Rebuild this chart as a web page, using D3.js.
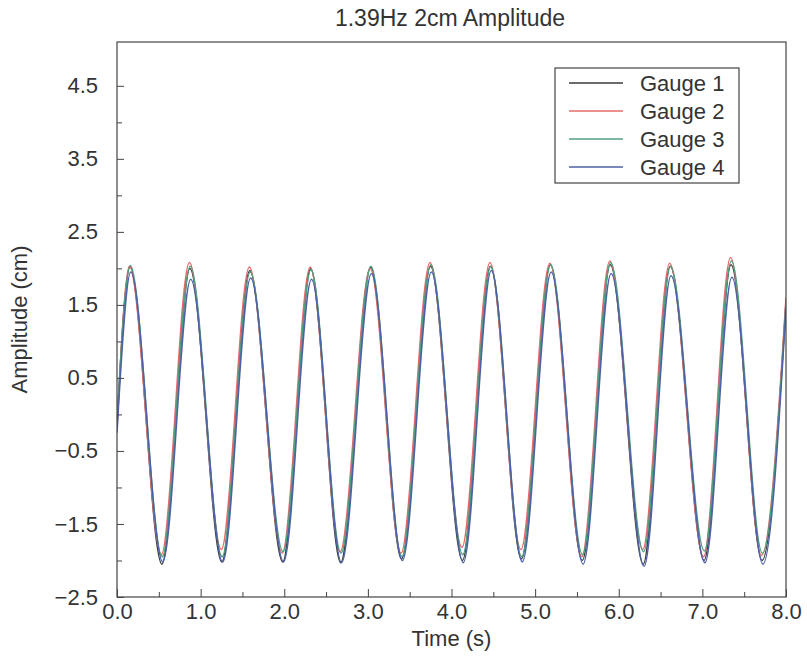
<!DOCTYPE html>
<html>
<head>
<meta charset="utf-8">
<script src="https://cdn.jsdelivr.net/npm/d3@7"></script>
<style>
  html, body { margin: 0; padding: 0; background: #fff; }
  svg { display: block; }
  text { font-family: "Liberation Sans", Arial, Helvetica, sans-serif; fill: #333; }
</style>
</head>
<body>
<svg id="chart" width="807" height="657"></svg>
<script>
// ---- data ----
const title = "1.39Hz 2cm Amplitude";
const xLabel = "Time (s)";
const yLabel = "Amplitude (cm)";
const xTicks = [0, 1, 2, 3, 4, 5, 6, 7, 8];
const xMinorTicks = [0.5, 1.5, 2.5, 3.5, 4.5, 5.5, 6.5, 7.5];
const yTicks = [-2.5, -1.5, -0.5, 0.5, 1.5, 2.5, 3.5, 4.5];
const yMinorTicks = [-2.0, -1.0, 0.0, 1.0, 2.0, 3.0, 4.0];
const seriesNames = ["Gauge 1", "Gauge 2", "Gauge 3", "Gauge 4"];

// start / end values of each record (t = 0 and t = 8 s)
const startValues = [-0.15, -0.2, -0.1, -0.25];
const endValues = [1.55, 1.6, 1.5, 1.45];

// times of crests and troughs (s)
const crestTimes = [0.155, 0.872, 1.588, 2.316, 3.033, 3.749, 4.466, 5.182, 5.899, 6.615, 7.343];
const troughTimes = [0.537, 1.254, 1.982, 2.675, 3.403, 4.131, 4.836, 5.564, 6.293, 7.021, 7.714];
// small per-gauge time shifts (s)
const timeShift = [0.0, -0.006, 0.004, 0.010];

// crest heights (cm)
const gauge1Crests = [2.02, 2.00, 1.97, 2.00, 2.02, 2.03, 2.03, 2.05, 2.05, 2.03, 2.05];
const gauge2Crests = [2.03, 2.08, 2.02, 2.02, 2.00, 2.08, 2.08, 2.07, 2.10, 2.07, 2.15];
const gauge3Crests = [2.04, 2.03, 1.95, 1.98, 2.03, 2.05, 2.03, 2.05, 2.08, 2.03, 2.10];
const gauge4Crests = [1.95, 1.85, 1.87, 1.85, 1.93, 1.95, 1.97, 1.95, 1.93, 1.90, 1.88];
// trough depths (cm)
const gauge1Troughs = [-2.05, -2.02, -2.02, -2.03, -1.98, -2.00, -1.98, -2.00, -2.05, -2.00, -2.00];
const gauge2Troughs = [-1.92, -1.85, -1.90, -1.88, -1.90, -1.82, -1.85, -1.95, -1.85, -1.95, -1.93];
const gauge3Troughs = [-1.95, -1.95, -1.88, -1.90, -1.95, -1.92, -1.95, -1.92, -1.88, -1.87, -1.90];
const gauge4Troughs = [-2.02, -2.02, -2.02, -2.03, -2.00, -2.03, -2.02, -2.05, -2.08, -2.03, -2.05];

const crests = [gauge1Crests, gauge2Crests, gauge3Crests, gauge4Crests];
const troughs = [gauge1Troughs, gauge2Troughs, gauge3Troughs, gauge4Troughs];
const colors = ["#3a3a3a", "#e46a6a", "#4f9e80", "#4d62a6"];

// ---- layout ----
const svg = d3.select("#chart");
const W = 807, H = 657;
const m = { left: 117, right: 21, top: 42, bottom: 60 };
const x = d3.scaleLinear().domain([0, 8]).range([m.left, W - m.right]);
const y = d3.scaleLinear().domain([-2.5, 5.1]).range([H - m.bottom, m.top]);
const fmt = d3.format(".1f");
const axisColor = "#444";

// build series
const series = seriesNames.map((name, i) => {
  const pts = [{ t: 0, v: startValues[i] }];
  crestTimes.forEach((ct, k) => {
    pts.push({ t: ct + timeShift[i], v: crests[i][k] });
    pts.push({ t: troughTimes[k] + timeShift[i], v: troughs[i][k] });
  });
  pts.push({ t: 8, v: endValues[i] });
  return { name, color: colors[i], pts };
});

// clip
svg.append("defs").append("clipPath").attr("id", "clip")
  .append("rect").attr("x", x(0)).attr("y", y(5.1))
  .attr("width", x(8) - x(0)).attr("height", y(-2.5) - y(5.1));

const line = d3.line().x(d => x(d.t)).y(d => y(d.v)).curve(d3.curveMonotoneX);

svg.append("g").attr("clip-path", "url(#clip)")
  .selectAll("path").data(series).join("path")
  .attr("d", d => line(d.pts))
  .attr("fill", "none")
  .attr("stroke", d => d.color)
  .attr("stroke-width", 1.5)
  .attr("stroke-linejoin", "round");

// frame
svg.append("rect")
  .attr("x", x(0)).attr("y", y(5.1))
  .attr("width", x(8) - x(0)).attr("height", y(-2.5) - y(5.1))
  .attr("fill", "none").attr("stroke", axisColor).attr("stroke-width", 1.2);

// x axis (ticks pointing inward)
const xAxis = d3.axisBottom(x).tickValues(xTicks).tickFormat(fmt).tickSize(-8).tickPadding(6);
const gx = svg.append("g").attr("transform", `translate(0,${y(-2.5)})`).call(xAxis);
gx.select(".domain").remove();
gx.selectAll(".tick line").attr("stroke", axisColor);
gx.selectAll(".tick text").attr("font-size", 22).attr("fill", "#333")
  .attr("font-family", "Liberation Sans, Arial, sans-serif").attr("dy", "0.71em");
const gxm = svg.append("g").attr("transform", `translate(0,${y(-2.5)})`)
  .call(d3.axisBottom(x).tickValues(xMinorTicks).tickFormat("").tickSize(-5));
gxm.select(".domain").remove();
gxm.selectAll(".tick line").attr("stroke", axisColor);

// y axis
const yAxis = d3.axisLeft(y).tickValues(yTicks).tickFormat(fmt).tickSize(-7).tickPadding(19);
const gy = svg.append("g").attr("transform", `translate(${x(0)},0)`).call(yAxis);
gy.select(".domain").remove();
gy.selectAll(".tick line").attr("stroke", axisColor);
gy.selectAll(".tick text").attr("font-size", 22).attr("fill", "#333")
  .attr("font-family", "Liberation Sans, Arial, sans-serif");
const gym = svg.append("g").attr("transform", `translate(${x(0)},0)`)
  .call(d3.axisLeft(y).tickValues(yMinorTicks).tickFormat("").tickSize(-5));
gym.select(".domain").remove();
gym.selectAll(".tick line").attr("stroke", axisColor);

// title & labels
svg.append("text").attr("x", 450).attr("y", 26).attr("text-anchor", "middle")
  .attr("font-size", 23).text(title);
svg.append("text").attr("x", (x(0) + x(8)) / 2).attr("y", 646).attr("text-anchor", "middle")
  .attr("font-size", 22).text(xLabel);
svg.append("text").attr("transform", `translate(27,${(y(-2.5) + y(5.1)) / 2}) rotate(-90)`)
  .attr("text-anchor", "middle").attr("font-size", 22).text(yLabel);

// legend
const lg = svg.append("g");
lg.append("rect").attr("x", 555).attr("y", 68).attr("width", 184).attr("height", 115)
  .attr("fill", "#fff").attr("stroke", axisColor).attr("stroke-width", 1.2);
series.forEach((s, i) => {
  const cy = 83 + i * 28;
  lg.append("line").attr("x1", 569).attr("x2", 623).attr("y1", cy).attr("y2", cy)
    .attr("stroke", s.color).attr("stroke-width", 1.3);
  lg.append("text").attr("x", 640).attr("y", cy).attr("dy", "0.36em")
    .attr("font-size", 22).text(s.name);
});
</script>
</body>
</html>
